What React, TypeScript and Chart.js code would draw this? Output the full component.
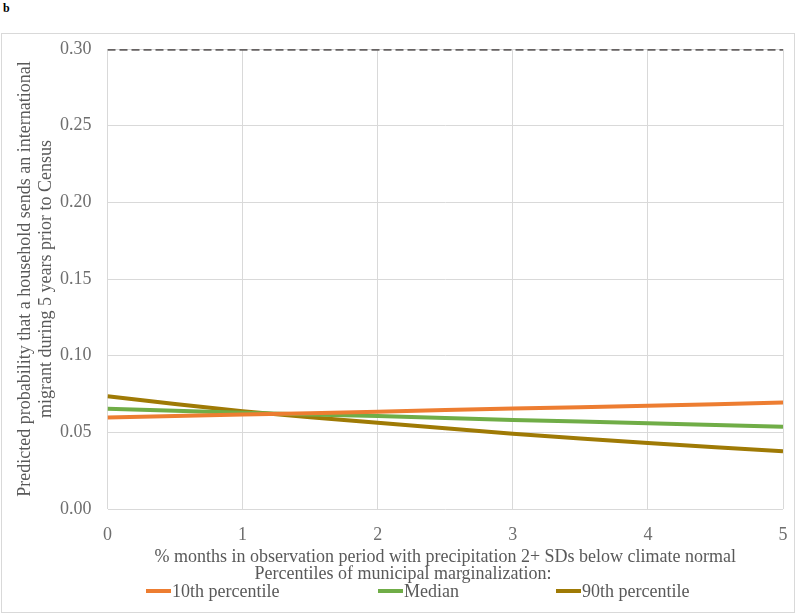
import React, { useEffect, useRef } from "react";
import { Chart, registerables } from "chart.js";

Chart.register(...registerables);

const xValues = [0, 0.5, 1, 1.5, 2, 2.5, 3, 3.5, 4, 4.5, 5];
const p10Values = [0.0596, 0.0606, 0.0616, 0.0625, 0.0635, 0.0645, 0.0655, 0.0664, 0.0673, 0.0683, 0.0694];
const medianValues = [0.0653, 0.064, 0.0627, 0.0616, 0.0607, 0.0594, 0.0581, 0.057, 0.0559, 0.0548, 0.0537];
const p90Values = [0.0735, 0.0685, 0.0637, 0.0598, 0.0563, 0.0526, 0.049, 0.046, 0.0431, 0.0403, 0.0376];
const refX = [0, 5];
const refValues = [0.3, 0.3];

const seriesLabels = ["10th percentile", "Median", "90th percentile"];
const seriesColors = ["#ED7D31", "#70AD47", "#9F7A05"];
const yTitle = [
  "Predicted probability that a household sends an international",
  "migrant during 5 years prior to Census",
];
const xTitle = "% months in observation period with precipitation 2+ SDs below climate normal";
const legendTitle = "Percentiles of municipal marginalization:";

const FONT = "'Liberation Serif', 'Times New Roman', serif";
const TEXT = "#595959";
const TICK = "#6e6e6e";

const toPoints = (xs: number[], ys: number[]) => xs.map((x, i) => ({ x, y: ys[i] }));

export default function App() {
  const ref = useRef<HTMLCanvasElement | null>(null);

  useEffect(() => {
    document.body.style.margin = "0";
    const ctx = ref.current!;
    const series = [p10Values, medianValues, p90Values];
    const chart = new Chart(ctx, {
      type: "line",
      data: {
        datasets: [
          ...series.map((vals, i) => ({
            label: seriesLabels[i],
            data: toPoints(xValues, vals),
            borderColor: seriesColors[i],
            backgroundColor: seriesColors[i],
            borderWidth: 4,
            pointRadius: 0,
            tension: 0,
          })),
          {
            label: "reference",
            data: toPoints(refX, refValues),
            borderColor: "#666262",
            borderWidth: 3.5,
            borderDash: [8, 4],
            pointRadius: 0,
            tension: 0,
          },
        ],
      },
      options: {
        responsive: false,
        animation: false,
        devicePixelRatio: 1,
        layout: { padding: { left: 12, right: 11, top: 15, bottom: 44 } },
        plugins: { legend: { display: false }, tooltip: { enabled: false } },
        scales: {
          x: {
            type: "linear",
            min: 0,
            max: 5,
            afterFit: (scale: any) => {
              scale.paddingLeft = 0;
              scale.paddingRight = 0;
              scale.height = 59;
            },
            ticks: { stepSize: 1, color: TICK, padding: 15, font: { family: FONT, size: 18 } },
            grid: { color: "#d9d9d9", drawTicks: false },
            border: { display: false },
            title: {
              display: true,
              text: xTitle,
              color: TEXT,
              font: { family: FONT, size: 18 },
              padding: { top: 2, bottom: 0 },
            },
          },
          y: {
            min: 0,
            max: 0.3,
            afterFit: (scale: any) => {
              scale.width = 93.5;
              scale.paddingTop = 0;
              scale.paddingBottom = 0;
            },
            ticks: {
              stepSize: 0.05,
              color: TICK,
              padding: 16,
              font: { family: FONT, size: 18 },
              callback: (v: any) => Number(v).toFixed(2),
            },
            grid: { color: "#d9d9d9", drawTicks: false },
            border: { display: false },
            title: {
              display: true,
              text: yTitle,
              color: TEXT,
              font: { family: FONT, size: 18, lineHeight: 1.2 },
              padding: { top: 0, bottom: 0 },
            },
          },
        },
      },
    });
    return () => chart.destroy();
  }, []);

  const legendLefts = [145, 377, 555];

  return (
    <div style={{ position: "absolute", left: 0, top: 0, width: 800, height: 616, background: "#fff", fontFamily: FONT }}>
      <div style={{ position: "absolute", left: 3, top: 1, fontSize: 12, fontWeight: "bold", color: "#000" }}>b</div>
      <div
        style={{
          position: "absolute",
          left: 1,
          top: 33,
          width: 792,
          height: 578,
          border: "1px solid #d9d9d9",
        }}
      >
        <canvas ref={ref} width={792} height={578} style={{ display: "block" }} />
        <div
          style={{
            position: "absolute",
            left: 0,
            width: 802,
            top: 530,
            textAlign: "center",
            fontSize: 18,
            lineHeight: "18px",
            color: TEXT,
            whiteSpace: "nowrap",
          }}
        >
          {legendTitle}
        </div>
        {seriesLabels.map((lab, i) => (
          <div
            key={lab}
            style={{
              position: "absolute",
              left: legendLefts[i] - 1,
              top: 547,
              height: 20,
              display: "flex",
              alignItems: "center",
              fontSize: 18,
              color: TEXT,
              whiteSpace: "nowrap",
            }}
          >
            <span style={{ display: "inline-block", width: 25, height: 4, background: seriesColors[i], marginRight: 1 }} />
            <span>{lab}</span>
          </div>
        ))}
      </div>
    </div>
  );
}
